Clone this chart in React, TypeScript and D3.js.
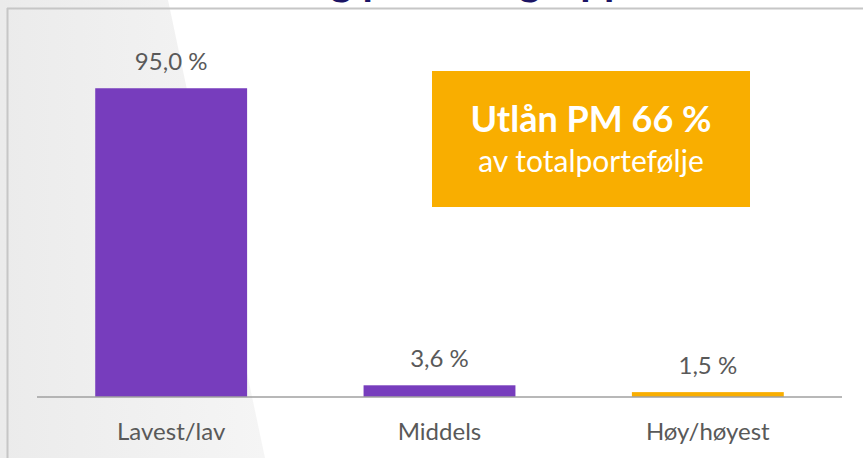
import * as d3 from "d3";

// verdier lest av bildet
const categories = ["Lavest/lav", "Middels", "Høy/høyest"];
const shares = [95.0, 3.6, 1.5];
const valueLabels = ["95,0 %", "3,6 %", "1,5 %"];
const barColors = ["#773DBD", "#773DBD", "#F9AE00"];
const titleText = "Fordeling på risikogrupper";
const boxTitle = "Utlån PM 66 %";
const boxSubtitle = "av totalportefølje";

const W = 863;
const H = 458;
const FONT = "Lato, 'Open Sans', sans-serif";

export default function App() {
  const x = d3
    .scaleBand<string>()
    .domain(categories)
    .range([37, 842])
    .paddingInner(0.434)
    .paddingOuter(0.217);

  const y = d3.scaleLinear().domain([0, 100]).range([397, 72]);

  // grå skrå flate i bakgrunnen
  const shade = d3.line()([
    [0, 0],
    [168, 0],
    [265, H],
    [0, H],
  ]);

  return (
    <svg
      width={W}
      height={H}
      style={{ position: "absolute", left: 0, top: 0, display: "block", background: "#fff" }}
    >
      <defs>
        <linearGradient id="shade" x1="0" x2="1" y1="0" y2="0">
          <stop offset="0%" stopColor="#ebebeb" />
          <stop offset="100%" stopColor="#f5f5f5" />
        </linearGradient>
      </defs>
      <path d={shade + "Z"} fill="url(#shade)" />

      {/* tittel, bare nedre del synlig (kuttet i originalen) */}
      <text x={178} y={-5.5} fontFamily={FONT} fontWeight={700} fontSize={42} fill="#1b1464">
        {titleText}
      </text>

      {/* ramme */}
      <line x1={7} x2={W} y1={8.5} y2={8.5} stroke="#c6c6c6" strokeWidth={2} />
      <line x1={7.5} x2={7.5} y1={8} y2={H} stroke="#c6c6c6" strokeWidth={2} />

      {/* stolper */}
      {categories.map((c, i) => (
        <g key={c}>
          <rect
            x={x(c)}
            y={y(shares[i])}
            width={x.bandwidth()}
            height={y(0) - y(shares[i])}
            fill={barColors[i]}
          />
          <text
            x={x(c)! + x.bandwidth() / 2}
            y={y(shares[i]) - 18}
            textAnchor="middle"
            fontFamily={FONT}
            fontSize={24}
            fill="#595959"
          >
            {valueLabels[i]}
          </text>
          <text
            x={x(c)! + x.bandwidth() / 2}
            y={440}
            textAnchor="middle"
            fontFamily={FONT}
            fontSize={24}
            fill="#595959"
          >
            {c}
          </text>
        </g>
      ))}

      {/* x-akse */}
      <line x1={37} x2={842} y1={y(0)} y2={y(0)} stroke="#a0a0a0" strokeWidth={1.5} />

      {/* boks */}
      <rect x={432} y={71} width={318} height={136} fill="#F9AE00" />
      <text x={591} y={132} textAnchor="middle" fontFamily={FONT} fontWeight={700} fontSize={36} fill="#fff">
        {boxTitle}
      </text>
      <text x={591} y={172} textAnchor="middle" fontFamily={FONT} fontSize={30} fill="#fff">
        {boxSubtitle}
      </text>
    </svg>
  );
}
